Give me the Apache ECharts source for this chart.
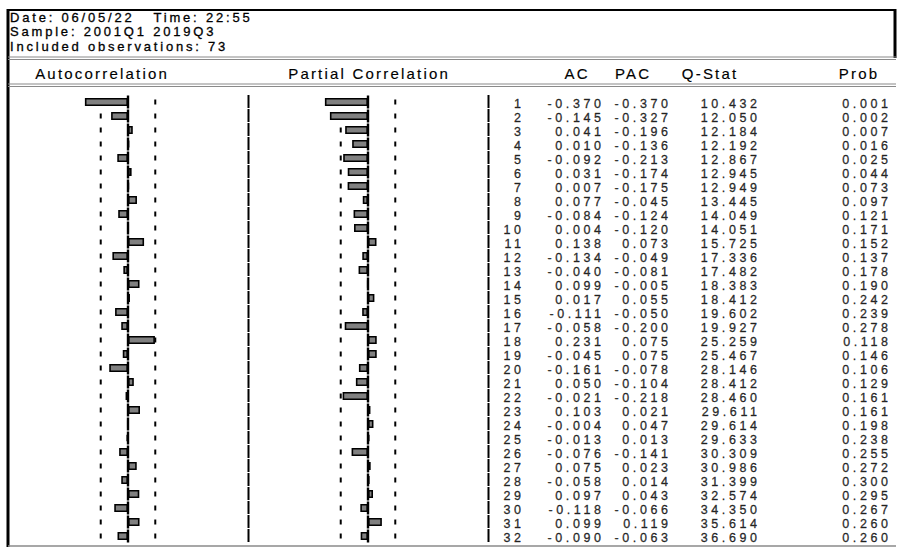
<!DOCTYPE html>
<html>
<head>
<meta charset="utf-8">
<script src="https://cdn.jsdelivr.net/npm/echarts@6/dist/echarts.min.js"></script>
<style>
html,body{margin:0;padding:0;background:#fff;}
#chart{width:899px;height:548px;letter-spacing:2.2px;}
#chart text[style*="12.5px"]{letter-spacing:3.6px;}
#chart text[style*="13px"]{letter-spacing:2.8px;}
</style>
</head>
<body>
<div id="chart"></div>
<script>
// ---------- data ----------
const headerLines = ['Date: 06/05/22   Time: 22:55', 'Sample: 2001Q1 2019Q3', 'Included observations: 73'];
const nObs = 73;
const columnHeaders = ['Autocorrelation', 'Partial Correlation', 'AC', 'PAC', 'Q-Stat', 'Prob'];
const lags = [1,2,3,4,5,6,7,8,9,10,11,12,13,14,15,16,17,18,19,20,21,22,23,24,25,26,27,28,29,30,31,32];
const ac = [-0.370,-0.145,0.041,0.010,-0.092,0.031,0.007,0.077,-0.084,0.004,0.138,-0.134,-0.040,0.099,0.017,-0.111,-0.058,0.231,-0.045,-0.161,0.050,-0.021,0.103,-0.004,-0.013,-0.076,0.075,-0.058,0.097,-0.118,0.099,-0.090];
const pac = [-0.370,-0.327,-0.196,-0.136,-0.213,-0.174,-0.175,-0.045,-0.124,-0.120,0.073,-0.049,-0.081,-0.005,0.055,-0.050,-0.200,0.075,0.075,-0.078,-0.104,-0.218,0.021,0.047,0.013,-0.141,0.023,0.014,0.043,-0.066,0.119,-0.063];
const qstat = [10.432,12.050,12.184,12.192,12.867,12.945,12.949,13.445,14.049,14.051,15.725,17.336,17.482,18.383,18.412,19.602,19.927,25.259,25.467,28.146,28.412,28.460,29.611,29.614,29.633,30.309,30.986,31.399,32.574,34.350,35.614,36.690];
const prob = [0.001,0.002,0.007,0.016,0.025,0.044,0.073,0.097,0.121,0.171,0.152,0.137,0.178,0.190,0.242,0.239,0.278,0.118,0.146,0.106,0.129,0.161,0.161,0.198,0.238,0.255,0.272,0.300,0.295,0.267,0.260,0.260];

// ---------- layout ----------
const FONT = '"Liberation Sans", Arial, sans-serif';
const FS = 15;          // column header texts
const FS_TOP = 13;      // top info lines
const FS_ROW = 12.5;    // table rows (fits the 14px row pitch)
const LS = 2.2;         // letter spacing of header texts (CSS)
const LS_ROW = 3.6;     // letter spacing of row texts (CSS)
const TB = 0.15;
const rowTop = 95, rowH = 14;
const gridH = rowH * lags.length;
const bound = 2 / Math.sqrt(nObs);
const cats = lags.map(String);

const chart = echarts.init(document.getElementById('chart'), null, {renderer: 'svg'});

const panels = [
  {left: 8, width: 240, values: ac},
  {left: 248, width: 240, values: pac}
];
const tableCols = [
  {right: 521, vals: lags.map(v => String(v))},
  {right: 601, vals: ac.map(v => v.toFixed(3))},
  {right: 668, vals: pac.map(v => v.toFixed(3))},
  {right: 757, vals: qstat.map(v => v.toFixed(3))},
  {right: 888, vals: prob.map(v => v.toFixed(3))}
];

const grids = [], xAxes = [], yAxes = [], series = [];
const XR = 1.03;
panels.forEach((p, i) => {
  grids.push({left: p.left, width: p.width, top: rowTop, height: gridH});
  xAxes.push({type: 'value', gridIndex: i, min: -XR, max: XR, show: false});
  yAxes.push({type: 'category', gridIndex: i, data: cats, inverse: true, show: false});
  series.push({
    type: 'custom', xAxisIndex: i, yAxisIndex: i, z: 1, silent: true,
    data: lags.map((l, k) => [0, k]),
    renderItem: function (params, api) {
      const c = api.coord([0, api.value(1)]);
      const lo = api.coord([-bound, api.value(1)]);
      const hi = api.coord([bound, api.value(1)]);
      const st = {stroke: '#000', lineWidth: 2};
      return {type: 'group', children: [
        {type: 'line', shape: {x1: lo[0], y1: c[1] - 2.5, x2: lo[0], y2: c[1] + 2.5}, style: st},
        {type: 'line', shape: {x1: hi[0], y1: c[1] - 2.5, x2: hi[0], y2: c[1] + 2.5}, style: st}
      ]};
    }
  });
  series.push({
    type: 'bar', xAxisIndex: i, yAxisIndex: i, z: 2, silent: true,
    data: p.values, barWidth: 8,
    itemStyle: {color: '#808080', borderColor: '#000', borderWidth: 1.6}
  });
  series.push({
    type: 'custom', xAxisIndex: i, yAxisIndex: i, z: 3, silent: true,
    data: lags.map((l, k) => [0, k]),
    renderItem: function (params, api) {
      const c = api.coord([0, api.value(1)]);
      const r = api.coord([XR, api.value(1)]);
      return {type: 'group', children: [
        {type: 'line', shape: {x1: c[0], y1: c[1] - 6.5, x2: c[0], y2: c[1] + 6.5}, style: {stroke: '#000', lineWidth: 2.4}},
        {type: 'line', shape: {x1: r[0] + 0.5, y1: c[1] - 7, x2: r[0] + 0.5, y2: c[1] + 6}, style: {stroke: '#000', lineWidth: 2}}
      ]};
    }
  });
});

tableCols.forEach((col, j) => {
  const gi = panels.length + j;
  grids.push({left: col.right + LS_ROW, width: 1, top: rowTop, height: gridH});
  xAxes.push({type: 'value', gridIndex: gi, min: 0, max: 1, show: false});
  yAxes.push({type: 'category', gridIndex: gi, data: cats, inverse: true, show: false});
  series.push({
    type: 'scatter', xAxisIndex: gi, yAxisIndex: gi, symbolSize: 0, silent: true,
    data: col.vals.map((v, k) => [0, k]),
    label: {
      show: true, position: 'left', distance: 0, offset: [0, 1.5],
      formatter: (p) => col.vals[p.dataIndex],
      color: '#000', fontFamily: FONT, fontSize: FS_ROW, lineHeight: 12,
      textBorderColor: '#000', textBorderWidth: 0.35
    }
  });
});

const gray = '#8a8a8a';
const graphic = [
  {type: 'line', shape: {x1: 7, y1: 10, x2: 896, y2: 10}, style: {stroke: '#000', lineWidth: 2}},
  {type: 'line', shape: {x1: 8, y1: 9, x2: 8, y2: 547}, style: {stroke: '#000', lineWidth: 3}},
  {type: 'line', shape: {x1: 895, y1: 9, x2: 895, y2: 58}, style: {stroke: '#000', lineWidth: 3}},
  {type: 'line', shape: {x1: 8, y1: 57, x2: 896, y2: 57}, style: {stroke: gray, lineWidth: 1.2}},
  {type: 'line', shape: {x1: 8, y1: 59.5, x2: 896, y2: 59.5}, style: {stroke: gray, lineWidth: 1.2}},
  {type: 'line', shape: {x1: 8, y1: 84, x2: 896, y2: 84}, style: {stroke: gray, lineWidth: 1.2}},
  {type: 'line', shape: {x1: 8, y1: 86.5, x2: 896, y2: 86.5}, style: {stroke: gray, lineWidth: 1.2}},
  {type: 'line', shape: {x1: 8, y1: 546, x2: 896, y2: 546}, style: {stroke: gray, lineWidth: 1.5}}
];
headerLines.forEach((t, i) => {
  graphic.push({type: 'text', x: 10, y: 17 + i * 14.7,
    style: {text: t, fill: '#000', font: FS_TOP + 'px ' + FONT, textAlign: 'left', textVerticalAlign: 'middle',
      stroke: '#000', lineWidth: 0.3}});
});
const hdrCenters = [101, 368, 576, 632, 709, 858];
columnHeaders.forEach((t, i) => {
  graphic.push({type: 'text', x: hdrCenters[i] + LS / 2, y: 73,
    style: {text: t, fill: '#000', font: FS + 'px ' + FONT, textAlign: 'center', textVerticalAlign: 'middle',
      stroke: '#000', lineWidth: TB}});
});

chart.setOption({
  animation: false,
  grid: grids, xAxis: xAxes, yAxis: yAxes, series: series,
  graphic: graphic
});
</script>
</body>
</html>
